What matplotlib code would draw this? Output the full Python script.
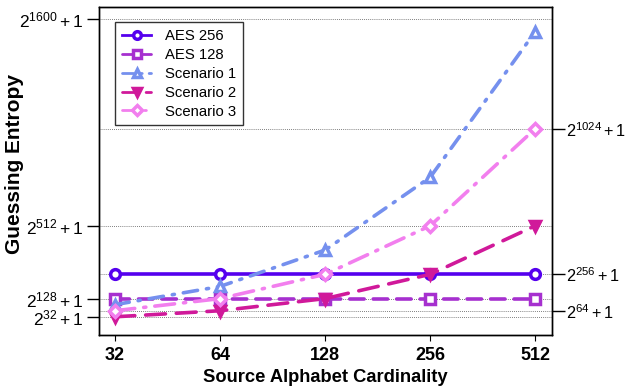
import numpy as np
import matplotlib
matplotlib.use("Agg")
import matplotlib.pyplot as plt

plt.rcParams["font.family"] = ["Liberation Sans", "DejaVu Sans"]
plt.rcParams["mathtext.fontset"] = "custom"
plt.rcParams["mathtext.rm"] = "Liberation Sans"
plt.rcParams["mathtext.it"] = "Liberation Sans:italic"
plt.rcParams["mathtext.bf"] = "Liberation Sans:bold"

# 数据：x 为字母表大小，y 为 log2(猜测熵)
cardinality = [32, 64, 128, 256, 512]
aes256 = [256, 256, 256, 256, 256]
aes128 = [128, 128, 128, 128, 128]
scenario1 = [96, 192, 384, 768, 1536]
scenario2 = [32, 64, 128, 256, 512]
scenario3 = [64, 128, 256, 512, 1024]

left_ticks = [32, 128, 512, 1600]
right_ticks = [64, 256, 1024]
grid_levels = [32, 64, 128, 256, 512, 1024, 1600]

series = [
    ("AES 256", aes256, "#5500EE", "-", "o", "none"),
    ("AES 128", aes128, "#A630CF", (0, (4, 2.5)), "s", "none"),
    ("Scenario 1", scenario1, "#7590EE", (0, (4, 2.5, 0.6, 2.5)), "^", "none"),
    ("Scenario 2", scenario2, "#D0199A", (0, (5.5, 3)), "v", "#D0199A"),
    ("Scenario 3", scenario3, "#F27FEE", (0, (5.5, 2.5, 0.6, 2.5)), "D", "none"),
]

fig = plt.figure(figsize=(6.26, 3.88), dpi=100)
ax = fig.add_axes([98.7 / 626, 1 - 335 / 388, 453 / 626, 327.7 / 388])

for y in grid_levels:
    ax.axhline(y, color="#555555", linestyle=(0, (1, 1.5)), linewidth=0.6, zorder=0)

for label, vals, color, ls, marker, face in series:
    ax.plot(
        cardinality,
        vals,
        color=color,
        linestyle=ls,
        linewidth=2.6,
        marker=marker,
        markersize=7 if marker != "D" else 6,
        markerfacecolor="white" if face == "none" else face,
        markeredgecolor=color,
        markeredgewidth=2.5,
        label=label,
        dash_capstyle="round",
    )

ax.set_xscale("log", base=2)
ax.set_xlim(2 ** 4.845, 2 ** 9.156)
ax.set_ylim(-64, 1664)
ax.set_xticks(cardinality)
ax.set_xticklabels([str(c) for c in cardinality], fontsize=13, fontweight="bold")
ax.xaxis.set_minor_locator(matplotlib.ticker.NullLocator())
ax.tick_params(axis="x", length=4, width=0.8, pad=5)

ax.set_yticks(left_ticks)
ax.set_yticklabels([rf"$2^{{{t}}}+1$" for t in left_ticks], fontsize=12.5)
ax.tick_params(axis="y", length=9, width=1.0, pad=2)

ax2 = ax.twinx()
ax2.set_ylim(ax.get_ylim())
ax2.set_yticks(right_ticks)
ax2.set_yticklabels([rf"$2^{{{t}}}+1$" for t in right_ticks], fontsize=11.7)
ax2.tick_params(axis="y", length=9, width=1.0, pad=1)

for a in (ax, ax2):
    for s in a.spines.values():
        s.set_linewidth(1.0)

ax.set_xlabel("Source Alphabet Cardinality", fontsize=13.2, fontweight="bold", labelpad=3)
ax.set_ylabel("Guessing Entropy", fontsize=15, fontweight="bold")
ax.yaxis.set_label_coords(-0.165, 0.522)

leg = ax.legend(
    loc="upper left",
    bbox_to_anchor=(0.036, 0.954),
    borderaxespad=0,
    fontsize=10.7,
    frameon=True,
    fancybox=False,
    edgecolor="black",
    handlelength=2.0,
    handletextpad=0.9,
    labelspacing=0.33,
    borderpad=0.45,
)
leg.get_frame().set_linewidth(1.0)
for h in leg.legend_handles:
    h.set_markersize(5.5)
    h.set_linewidth(2)

fig.savefig("out.png", dpi=100)
